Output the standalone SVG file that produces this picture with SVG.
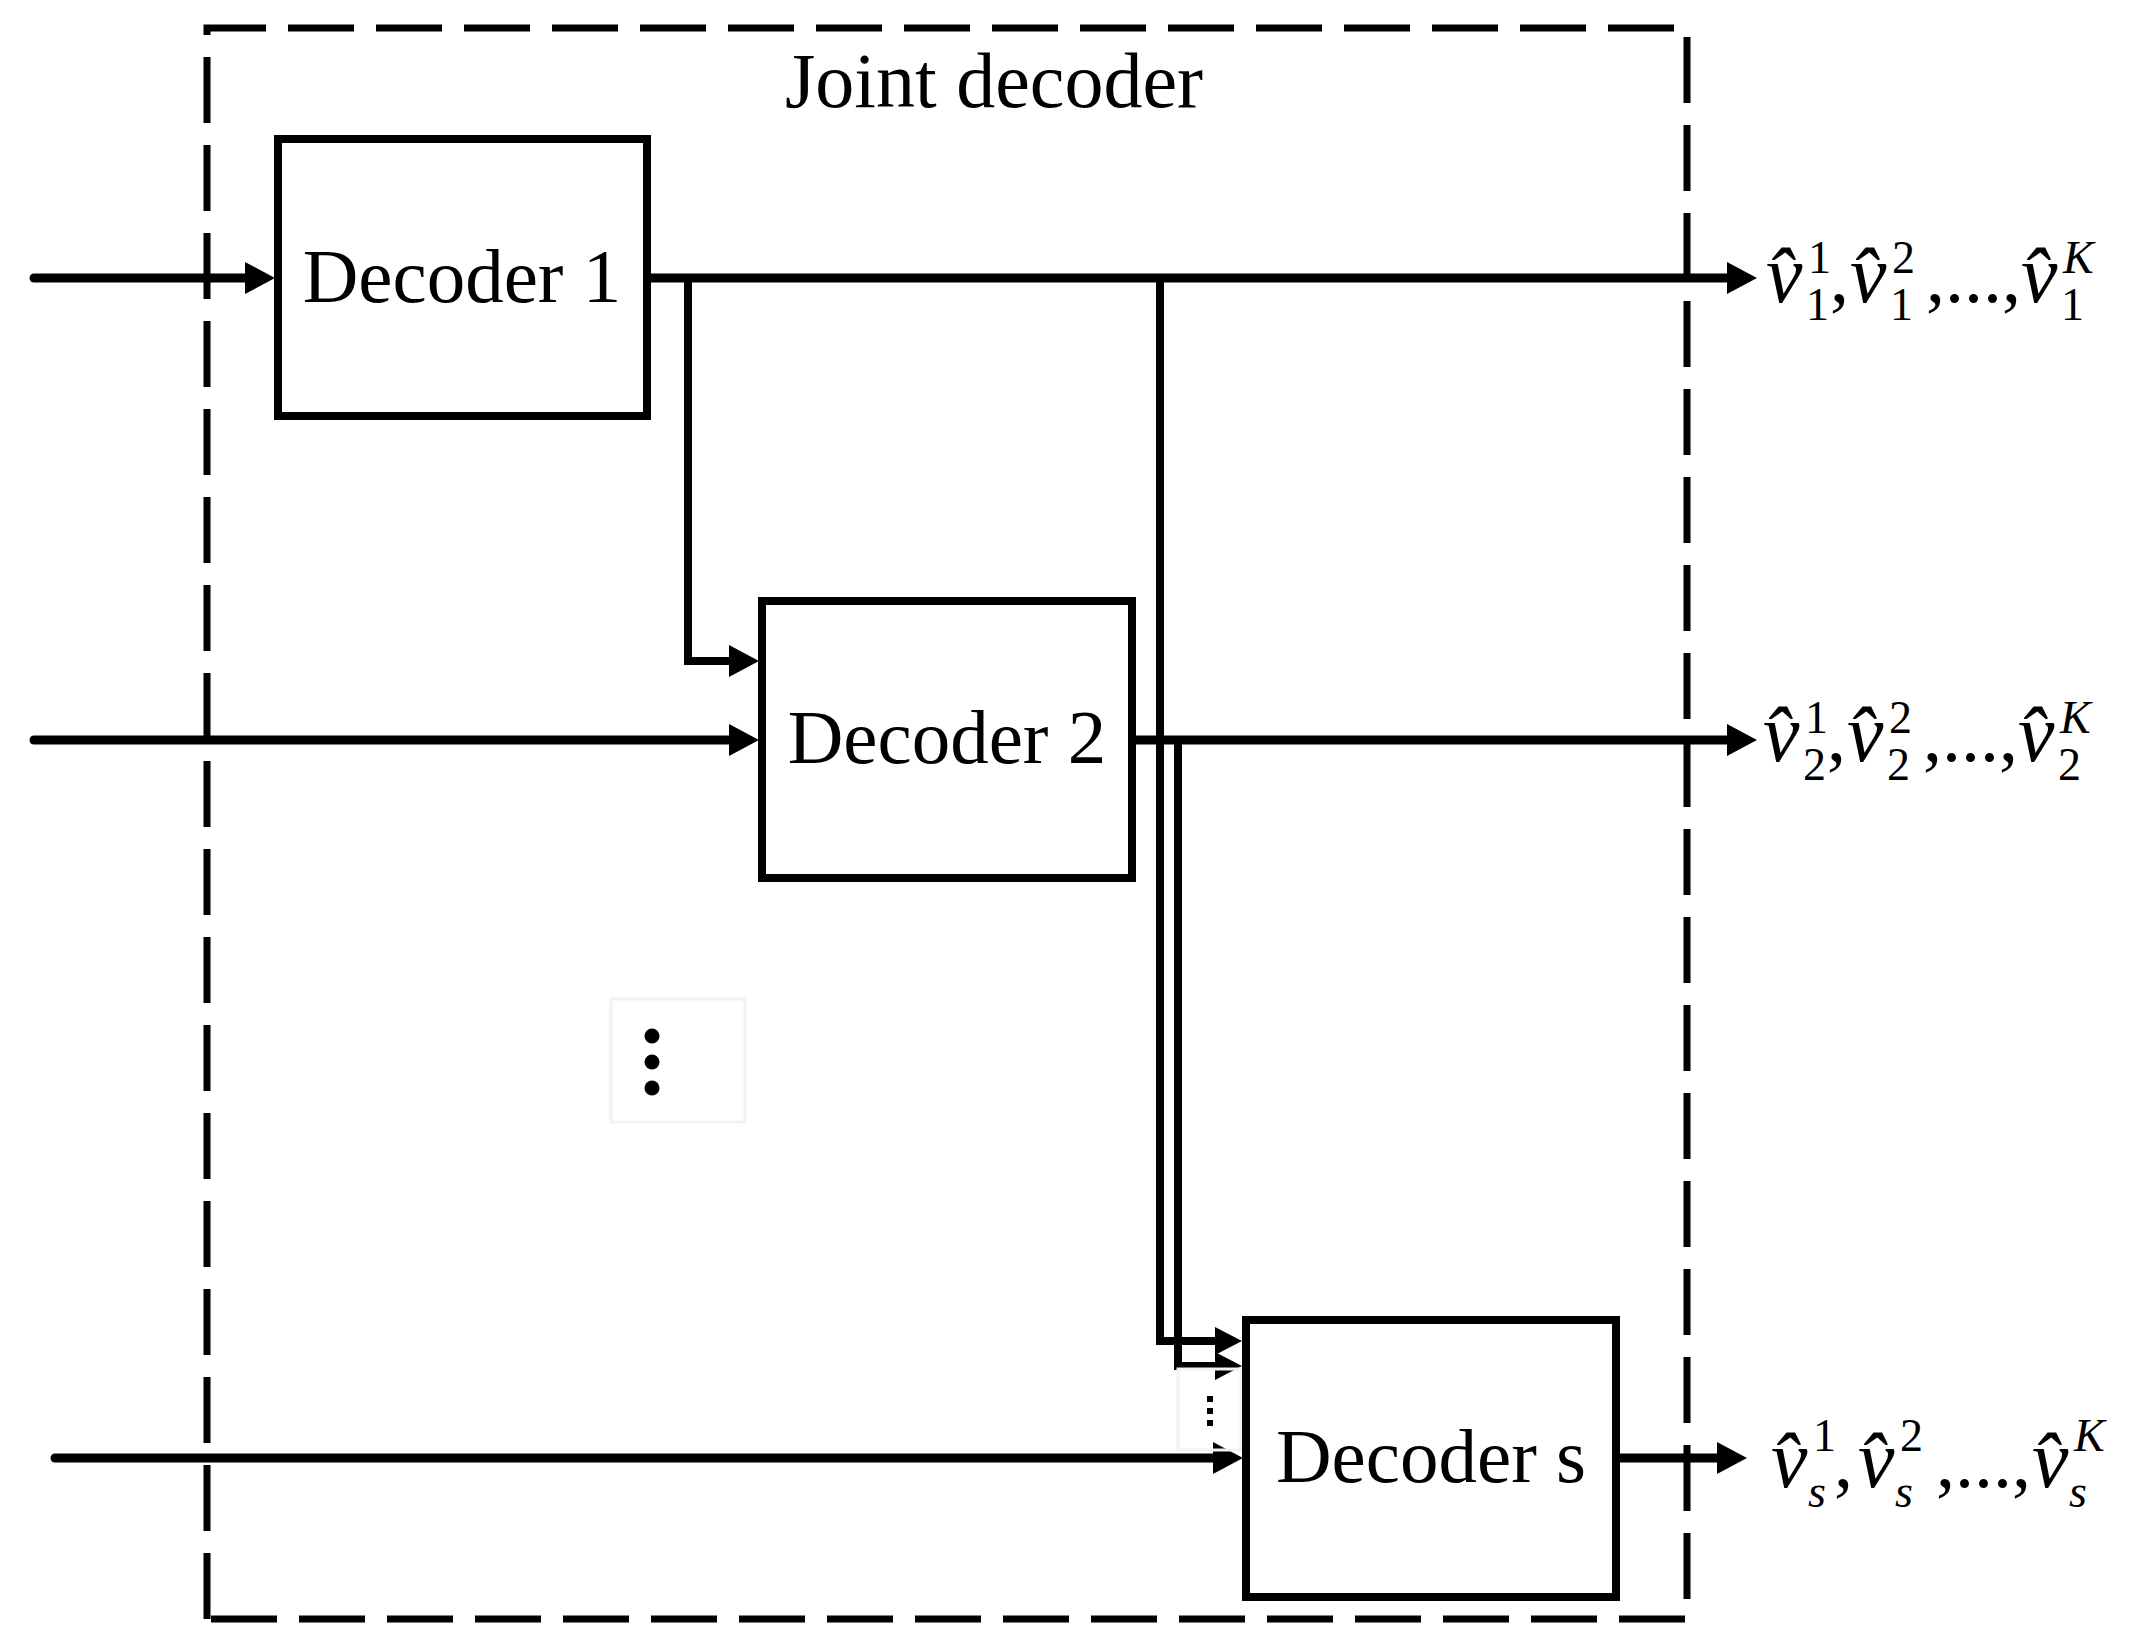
<svg xmlns="http://www.w3.org/2000/svg" width="2138" height="1644" viewBox="0 0 2138 1644">
<style>
.lbl{font-family:"Liberation Serif","Times New Roman",serif;font-size:77px;fill:#000;text-anchor:middle}
.box{fill:#fff;stroke:#000;stroke-width:8}
.conn{fill:none;stroke:#000;stroke-width:8}
.main{stroke-width:9}
.math{font-family:"Liberation Serif","Times New Roman",serif;font-size:76px;fill:#000}
.it{font-style:italic}
.v{font-size:82px}
.sm{font-size:46px}
.faint{fill:none;stroke:#eef3fa;stroke-width:3}
</style>
<defs>
<marker id="arr" markerUnits="userSpaceOnUse" markerWidth="30" markerHeight="32" refX="0" refY="16" orient="auto" overflow="visible">
<path d="M0,0 L30,16 L0,32 Z" fill="#000"/>
</marker>
<marker id="arrS" markerUnits="userSpaceOnUse" markerWidth="27" markerHeight="28" refX="0" refY="14" orient="auto" overflow="visible">
<path d="M0,0 L27,14 L0,28 Z" fill="#000"/>
</marker>
</defs>
<rect width="2138" height="1644" fill="#fff"/>

<g id="joint-decoder">
<path d="M207,1619 V28 H1687 V1619 Z" fill="none" stroke="#000" stroke-width="7" stroke-dasharray="66 22"/>
<text class="lbl" x="994" y="107" style="font-size:78px">Joint decoder</text>
</g>

<g id="dots-main">
<rect class="faint" x="611" y="999" width="134" height="123"/>
<circle cx="652" cy="1036" r="7.5" fill="#000"/>
<circle cx="652" cy="1062" r="7.5" fill="#000"/>
<circle cx="652" cy="1088" r="7.5" fill="#000"/>
</g>

<g id="connectors">
<path class="conn main" d="M34,278 H245" stroke-linecap="round" marker-end="url(#arr)"/>
<path class="conn main" d="M650,278 H1727" marker-end="url(#arr)"/>
<path class="conn" d="M688,278 V661 H729" marker-end="url(#arr)"/>
<path class="conn" d="M1160,278 V1341 H1215" marker-end="url(#arrS)"/>
<path class="conn main" d="M34,740 H729" stroke-linecap="round" marker-end="url(#arr)"/>
<path class="conn main" d="M1136,740 H1727" marker-end="url(#arr)"/>
<path class="conn" d="M1178,740 V1366 H1215" marker-end="url(#arrS)"/>
<path class="conn main" d="M55,1458 H1213" stroke-linecap="round" marker-end="url(#arr)"/>
<path class="conn main" d="M1620,1458 H1717" marker-end="url(#arr)"/>
</g>

<g id="dots-small">
<rect class="faint" x="1178" y="1369" width="63" height="81"/>
<rect x="1207" y="1396" width="6" height="6" fill="#000"/>
<rect x="1207" y="1408" width="6" height="6" fill="#000"/>
<rect x="1207" y="1420" width="6" height="6" fill="#000"/>
</g>

<g id="decoder1">
<rect class="box" x="278" y="139" width="369" height="277"/>
<text class="lbl" x="462" y="302">Decoder 1</text>
</g>

<g id="decoder2">
<rect class="box" x="762" y="601" width="370" height="277"/>
<text class="lbl" x="947" y="763">Decoder 2</text>
</g>

<g id="decoders">
<rect class="box" x="1246" y="1320" width="370" height="277"/>
<text class="lbl" x="1431" y="1482">Decoder s</text>
</g>

<g id="out1">
<text class="math" y="302"><tspan class="it v" x="1766">v̂</tspan><tspan class="sm" x="1808" y="273">1</tspan><tspan class="sm" x="1806" y="320">1</tspan><tspan x="1830" y="302">,</tspan><tspan class="it v" x="1850">v̂</tspan><tspan class="sm" x="1892" y="273">2</tspan><tspan class="sm" x="1890" y="320">1</tspan><tspan x="1926" y="302">,...,</tspan><tspan class="it v" x="2021">v̂</tspan><tspan class="sm it" x="2063" y="273">K</tspan><tspan class="sm" x="2061" y="320">1</tspan></text>
</g>

<g id="out2">
<text class="math" y="761"><tspan class="it v" x="1763">v̂</tspan><tspan class="sm" x="1805" y="733">1</tspan><tspan class="sm" x="1803" y="780">2</tspan><tspan x="1827" y="761">,</tspan><tspan class="it v" x="1847">v̂</tspan><tspan class="sm" x="1889" y="733">2</tspan><tspan class="sm" x="1887" y="780">2</tspan><tspan x="1923" y="761">,...,</tspan><tspan class="it v" x="2018">v̂</tspan><tspan class="sm it" x="2060" y="733">K</tspan><tspan class="sm" x="2058" y="780">2</tspan></text>
</g>

<g id="outs">
<text class="math" y="1487"><tspan class="it v" x="1771">v̂</tspan><tspan class="sm" x="1813" y="1451">1</tspan><tspan class="sm it" x="1808" y="1507">s</tspan><tspan x="1834" y="1487">,</tspan><tspan class="it v" x="1858">v̂</tspan><tspan class="sm" x="1900" y="1451">2</tspan><tspan class="sm it" x="1895" y="1507">s</tspan><tspan x="1936" y="1487">,...,</tspan><tspan class="it v" x="2032">v̂</tspan><tspan class="sm it" x="2074" y="1451">K</tspan><tspan class="sm it" x="2069" y="1507">s</tspan></text>
</g>
</svg>
